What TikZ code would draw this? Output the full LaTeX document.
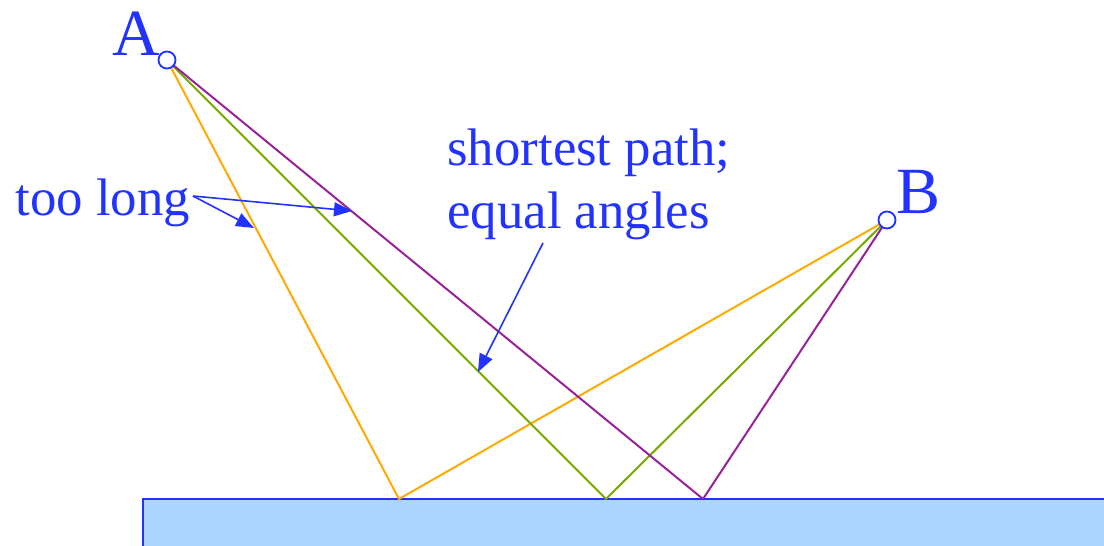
\documentclass[tikz,border=0pt]{standalone}
\usepackage{fontspec}
\setmainfont{Liberation Serif}
\usetikzlibrary{arrows.meta}
\definecolor{txtblue}{RGB}{34,51,255}
\definecolor{surffill}{RGB}{170,213,255}
\definecolor{orangeray}{RGB}{255,170,0}
\definecolor{greenray}{RGB}{119,170,0}
\definecolor{purpleray}{RGB}{153,34,153}
\tikzset{
  ray/.style={line width=1pt},
  ptcircle/.style={circle,draw=txtblue,fill=white,line width=0.9pt,minimum size=8.5pt,inner sep=0pt},
  lbl/.style={text=txtblue,font=\fontsize{26.4}{31.7}\selectfont,inner sep=0pt},
  biglbl/.style={text=txtblue,font=\fontsize{33}{38}\selectfont,inner sep=0pt},
  pointer/.style={draw=txtblue,line width=0.8pt,-{Triangle[length=9pt,width=7pt]}}
}
\begin{document}
\begin{tikzpicture}[x=0.5pt,y=-0.5pt]
\useasboundingbox (0,0) rectangle (1104,546);
% surface
\fill[surffill] (143,499) rectangle (1110,550);
\draw[txtblue,line width=0.9pt] (143,550) -- (143,499) -- (1110,499);
% points
\coordinate (A) at (167,60);
\coordinate (B) at (887,220);
\coordinate (P1) at (399,499);
\coordinate (P2) at (606,499);
\coordinate (P3) at (703,499);
% rays
\draw[ray,orangeray] (A) -- (P1) -- (B);
\draw[ray,greenray] (A) -- (P2) -- (B);
\draw[ray,purpleray] (A) -- (P3) -- (B);
\node[ptcircle] (Ac) at (A) {};
\node[ptcircle] (Bc) at (B) {};
% labels
\node[biglbl,anchor=base east] (Al) at (161,55) {A};
\node[biglbl,anchor=base west] (Bl) at (896,213) {B};
\node[lbl,anchor=base west] (tl) at (15,215) {too long};
\node[lbl,anchor=base west,align=left] (sp) at (447,165) {shortest path;};
\node[lbl,anchor=base west,align=left] (ea) at (447,228) {equal angles};
% arrows
\coordinate (tlS) at (193,196);
\coordinate (tipO) at (254,228);
\coordinate (tipP) at (352,211);
\coordinate (spS) at (543,243);
\coordinate (tipG) at (478,372);
\draw[pointer] (tlS) -- (tipO);
\draw[pointer] (tlS) -- (tipP);
\draw[pointer] (spS) -- (tipG);
\end{tikzpicture}
\end{document}
